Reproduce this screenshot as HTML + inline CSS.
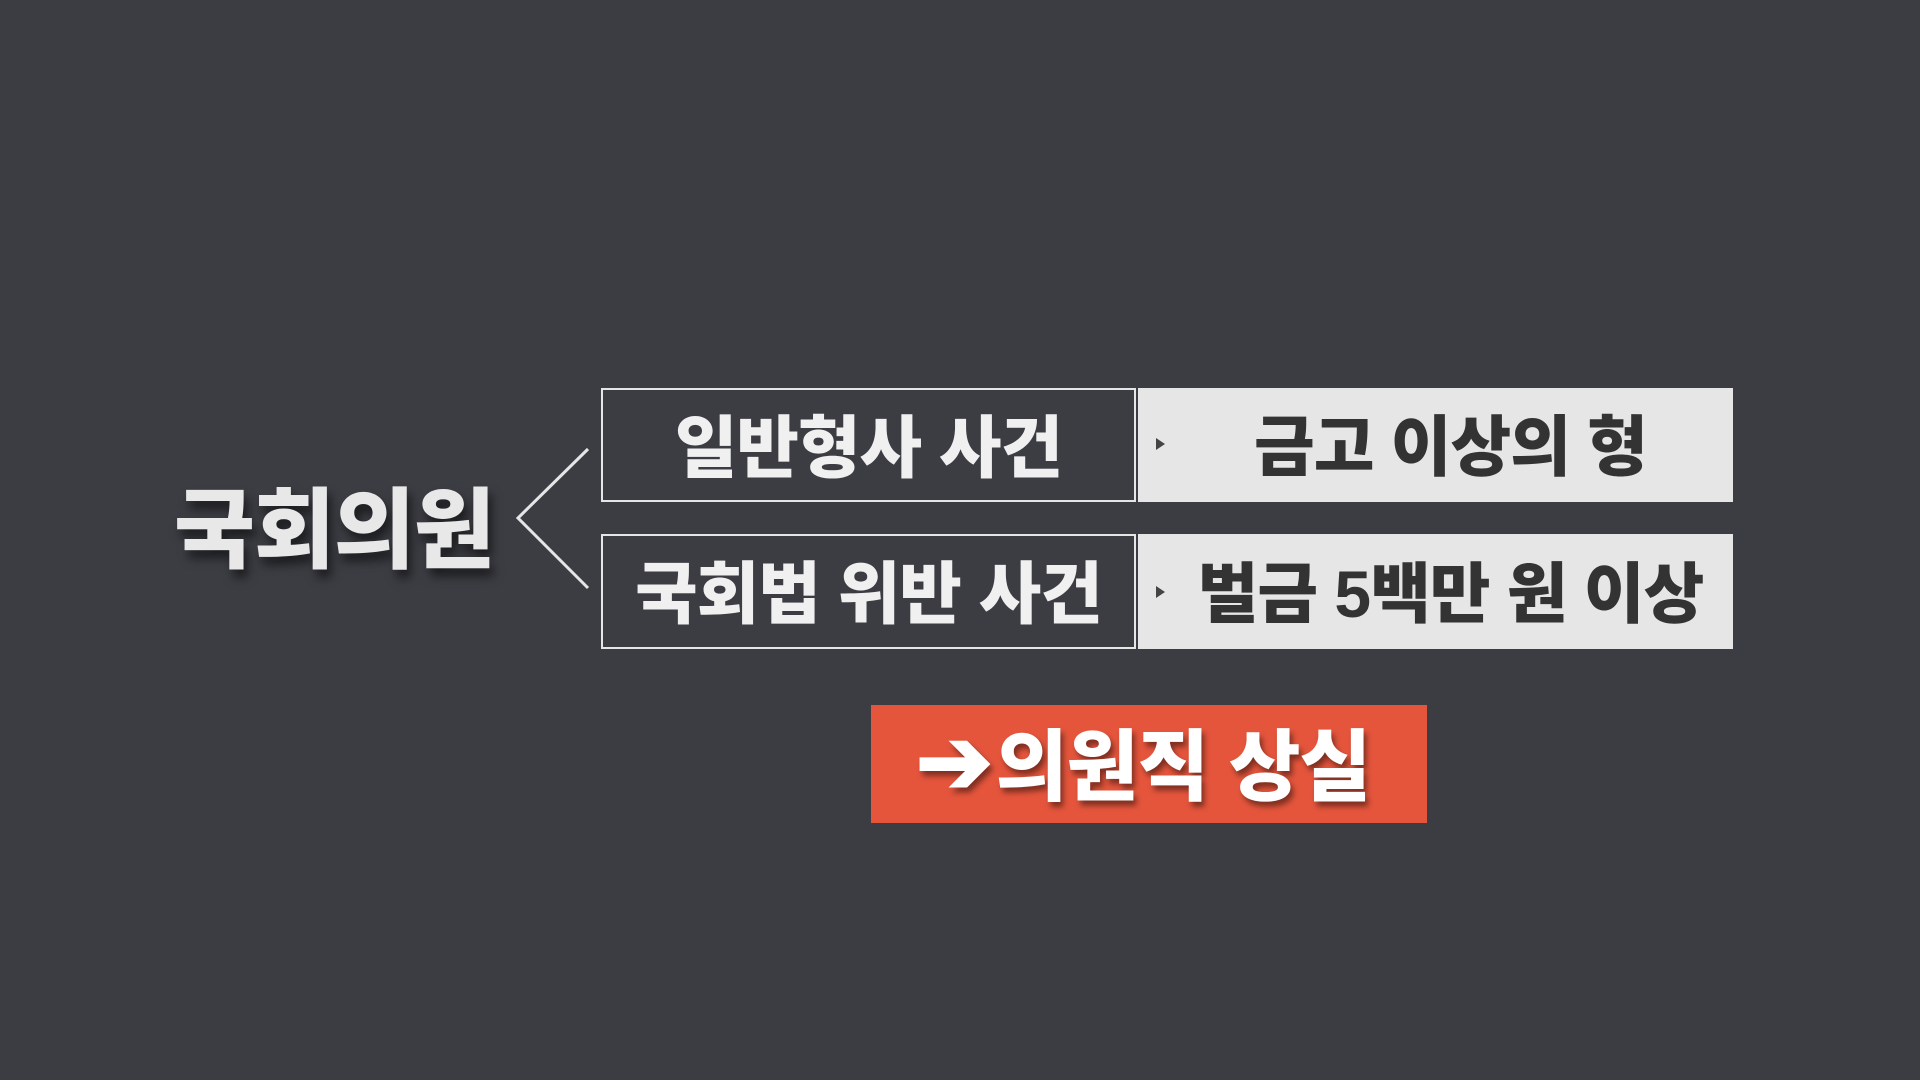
<!DOCTYPE html>
<html style="width:1920px;height:1080px;overflow:hidden"><head><meta charset="utf-8"><style>
html,body{margin:0;padding:0}
body{width:1920px;height:1080px;background:#3b3d43;position:relative;overflow:hidden;font-family:"Liberation Sans","Noto Sans CJK KR","NanumGothic",sans-serif;font-weight:900}
.title{position:absolute;left:174px;top:460px;font-size:88px;color:#e8e8e8;letter-spacing:-1px;text-shadow:4px 8px 10px rgba(0,0,0,.55)}
.dark{position:absolute;left:601px;width:535px;border:2px solid #e6e6e6;background:#3b3d43;color:#f0f0f0;font-size:68px;display:flex;align-items:center;justify-content:center;letter-spacing:-1px;box-sizing:border-box;white-space:nowrap;padding-bottom:6px}
.light{position:absolute;left:1138px;width:595px;background:#e6e6e6;color:#333;font-size:66px;display:flex;align-items:center;justify-content:center;letter-spacing:-1px;white-space:nowrap;padding-bottom:6px}
.tri{position:absolute;width:0;height:0;border-left:9px solid #444;border-top:6px solid transparent;border-bottom:6px solid transparent}
.orange{position:absolute;left:871px;top:705px;width:556px;height:118px;background:#e5553c;color:#fff;font-size:78px;display:flex;align-items:center;justify-content:center;letter-spacing:-1px;text-shadow:3px 5px 6px rgba(0,0,0,.45);white-space:nowrap;padding-bottom:6px;box-sizing:border-box;padding-right:12px}
</style></head><body>
<div class="title">국회의원</div>
<svg style="position:absolute;left:0;top:0" width="1920" height="1080"><polyline points="588,449 518,518 588,588" fill="none" stroke="#e6e6e6" stroke-width="3"/></svg>
<div class="dark" style="top:388px;height:114px">일반형사 사건</div>
<div class="light" style="top:388px;height:114px;padding-left:30px;box-sizing:border-box">금고 이상의 형</div>
<div class="tri" style="left:1156px;top:438px"></div>
<div class="dark" style="top:534px;height:115px">국회법 위반 사건</div>
<div class="light" style="top:534px;height:115px;padding-left:30px;box-sizing:border-box">벌금 5백만 원 이상</div>
<div class="tri" style="left:1156px;top:586px"></div>
<div class="orange"><span style="font-size:92px;margin-right:4px">➔</span>의원직 상실</div>
</body></html>
